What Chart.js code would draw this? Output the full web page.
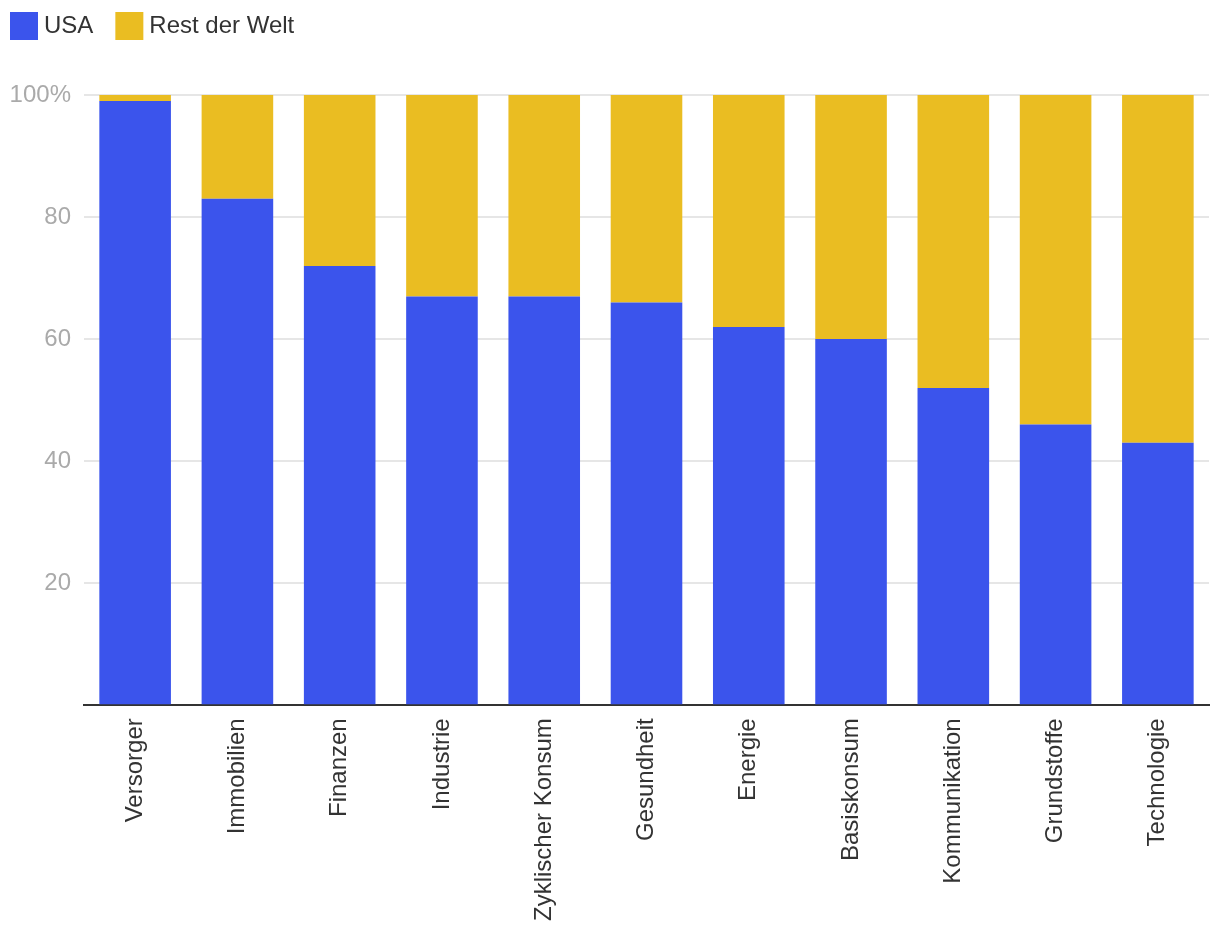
<!DOCTYPE html>
<html lang="de">
<head>
<meta charset="UTF-8">
<title>USA vs. Rest der Welt</title>
<script src="https://cdn.jsdelivr.net/npm/chart.js"></script>
<style>
  * { box-sizing: border-box; margin: 0; padding: 0; }
  body { background: white; width: 1220px; height: 938px; overflow: hidden; }
  .wrap { width: 1220px; height: 938px; }
</style>
</head>
<body>
<div class="wrap"><canvas id="grafik"></canvas></div>

<script>
const sektoren = ['Versorger', 'Immobilien', 'Finanzen', 'Industrie', 'Zyklischer Konsum', 'Gesundheit',
  'Energie', 'Basiskonsum', 'Kommunikation', 'Grundstoffe', 'Technologie'];
const usaAnteil = [99, 83, 72, 67, 67, 66, 62, 60, 52, 46, 43];
const restAnteil = [1, 17, 28, 33, 33, 34, 38, 40, 48, 54, 57];
const yTicks = [0, 20, 40, 60, 80, 100];

const schrift = "'Liberation Sans', Arial, Helvetica, sans-serif";
Chart.defaults.font.family = schrift;

// small legend drawn top-left: square box, tight gap to the text
const legende = {
  id: 'legende',
  afterDraw(chart) {
    const c = chart.ctx;
    c.save();
    c.font = '24px ' + schrift;
    c.textBaseline = 'middle';
    c.textAlign = 'left';
    let x = 10;
    chart.data.datasets.forEach(ds => {
      c.fillStyle = ds.backgroundColor;
      c.fillRect(x, 12, 28, 28);
      c.fillStyle = '#333';
      c.fillText(ds.label, x + 34, 26);
      x += 34 + c.measureText(ds.label).width + 22;
    });
    c.restore();
  }
};

const ctx = document.getElementById('grafik').getContext('2d');
new Chart(ctx, {
  type: 'bar',
  data: {
    labels: sektoren,
    datasets: [
      { label: 'USA', data: usaAnteil, backgroundColor: '#3B54EC', barPercentage: 0.7, categoryPercentage: 1 },
      { label: 'Rest der Welt', data: restAnteil, backgroundColor: '#EABD22', barPercentage: 0.7, categoryPercentage: 1 }
    ]
  },
  options: {
    responsive: true,
    maintainAspectRatio: false,
    animation: false,
    layout: { padding: { top: 95, right: 11, bottom: 4 } },
    plugins: {
      legend: { display: false },
      tooltip: { enabled: false }
    },
    scales: {
      x: {
        stacked: true,
        grid: { display: false, drawTicks: false },
        border: { display: true, color: '#333', width: 2 },
        ticks: { color: '#333', font: { size: 24 }, minRotation: 90, maxRotation: 90, padding: 13, autoSkip: false }
      },
      y: {
        stacked: true,
        min: 0,
        max: 100,
        afterFit(scale) { scale.width = 84; },
        afterBuildTicks(scale) { scale.ticks = yTicks.map(v => ({ value: v })); },
        grid: { color: '#e6e6e6', lineWidth: 2, drawTicks: false },
        border: { display: false },
        ticks: {
          color: '#aaa',
          font: { size: 24 },
          padding: 13,
          callback: v => v === 100 ? '100%' : (v === 0 ? '' : v)
        }
      }
    }
  },
  plugins: [legende]
});
</script>
</body>
</html>
